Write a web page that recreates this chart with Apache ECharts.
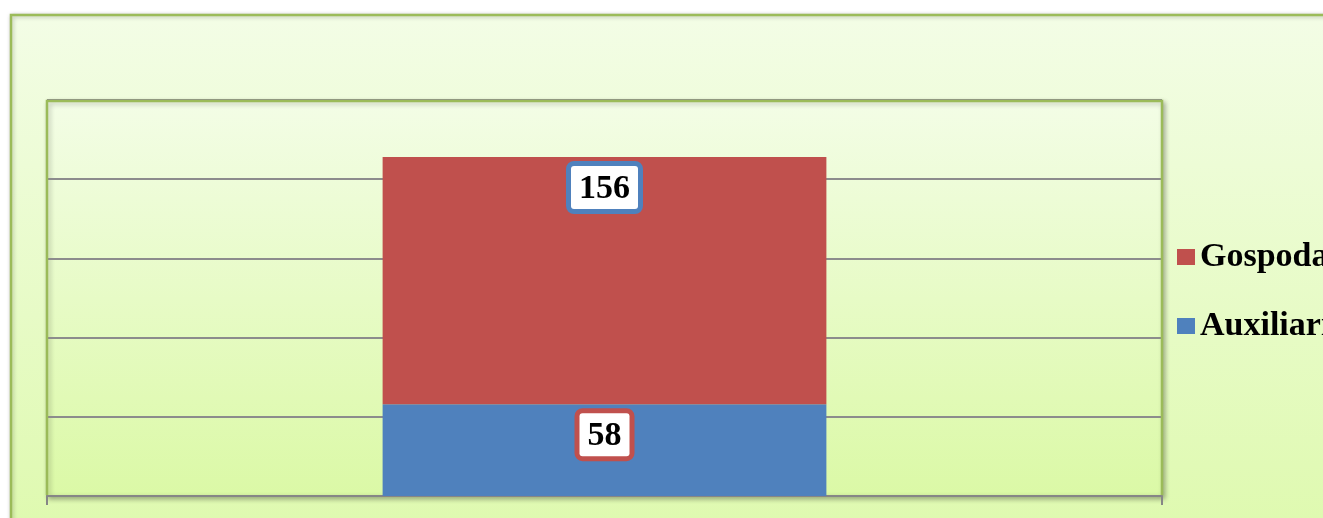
<!DOCTYPE html>
<html>
<head>
<meta charset="utf-8">
<style>
  html, body { margin: 0; padding: 0; background: #ffffff; }
  #chart { width: 1323px; height: 518px; }
</style>
<script src="https://cdn.jsdelivr.net/npm/echarts@6/dist/echarts.min.js"></script>
</head>
<body>
<div id="chart"></div>
<script>
var categories = [''];
var seriesNames = ['Gospodarii', 'Auxiliari'];
var gospodarii = [156];
var auxiliari = [58];
var yMax = 250;
var yStep = 50;

var red = '#c0504d';
var blue = '#4f81bd';
var green = '#9bbb59';
var serif = '"Liberation Serif", "Times New Roman", serif';

function greenFill() {
  return new echarts.graphic.LinearGradient(0, 0, 0, 1, [
    { offset: 0, color: '#f3fde6' },
    { offset: 1, color: '#dbf9a6' }
  ]);
}

// white label box with the other series' colour as border
function labelBox(border) {
  return {
    show: true,
    position: 'insideTop',
    distance: 9,
    color: '#000',
    fontFamily: serif,
    fontWeight: 'bold',
    fontSize: 34,
    lineHeight: 34,
    backgroundColor: '#fff',
    borderColor: border,
    borderWidth: 5,
    borderRadius: 3,
    padding: [6, 8, 3, 8]
  };
}

var myChart = echarts.init(document.getElementById('chart'));
myChart.setOption({
  animation: false,
  backgroundColor: '#ffffff',
  graphic: [
    {
      type: 'rect', z: -10, silent: true,
      shape: { x: 11, y: 15, width: 1400, height: 600 },
      style: { fill: greenFill(), stroke: green, lineWidth: 2.5,
               shadowBlur: 4, shadowColor: 'rgba(0,0,0,0.25)', shadowOffsetX: 1, shadowOffsetY: 1 }
    },
    {
      type: 'rect', z: -9, silent: true,
      shape: { x: 47, y: 101, width: 1115, height: 395 },
      style: { fill: greenFill(), stroke: green, lineWidth: 2,
               shadowBlur: 5, shadowColor: 'rgba(0,0,0,0.3)', shadowOffsetX: 2, shadowOffsetY: 2 }
    },
    {
      type: 'polyline', z: 50, silent: true,
      shape: { points: [[47, 495], [47, 101], [1162, 101], [1162, 495]] },
      style: { fill: null, stroke: green, lineWidth: 2.5 }
    }
  ],
  legend: {
    orient: 'vertical',
    left: 1172,
    top: 235,
    data: seriesNames,
    itemWidth: 18,
    itemHeight: 16,
    itemGap: 35,
    itemTextGap: 8,
    icon: 'rect',
    textStyle: { fontFamily: serif, fontWeight: 'bold', fontSize: 34, lineHeight: 34, color: '#000' }
  },
  grid: { left: 47, top: 100, right: 161, bottom: 22, containLabel: false },
  xAxis: {
    type: 'category',
    data: categories,
    axisLine: { lineStyle: { color: '#868686', width: 2 } },
    axisTick: { show: true, length: 9, lineStyle: { color: '#868686', width: 2 } },
    axisLabel: { show: false }
  },
  yAxis: {
    type: 'value',
    min: 0,
    max: yMax,
    interval: yStep,
    axisLine: { show: false },
    axisTick: { show: false },
    axisLabel: { show: false },
    splitLine: { lineStyle: { color: '#8c8c8c', width: 2 } }
  },
  series: [
    {
      name: seriesNames[1],
      type: 'bar',
      stack: 'total',
      barWidth: '39.8%',
      data: auxiliari,
      itemStyle: { color: blue },
      label: labelBox(red)
    },
    {
      name: seriesNames[0],
      type: 'bar',
      stack: 'total',
      data: gospodarii,
      itemStyle: { color: red },
      label: labelBox(blue)
    }
  ]
});
</script>
</body>
</html>
